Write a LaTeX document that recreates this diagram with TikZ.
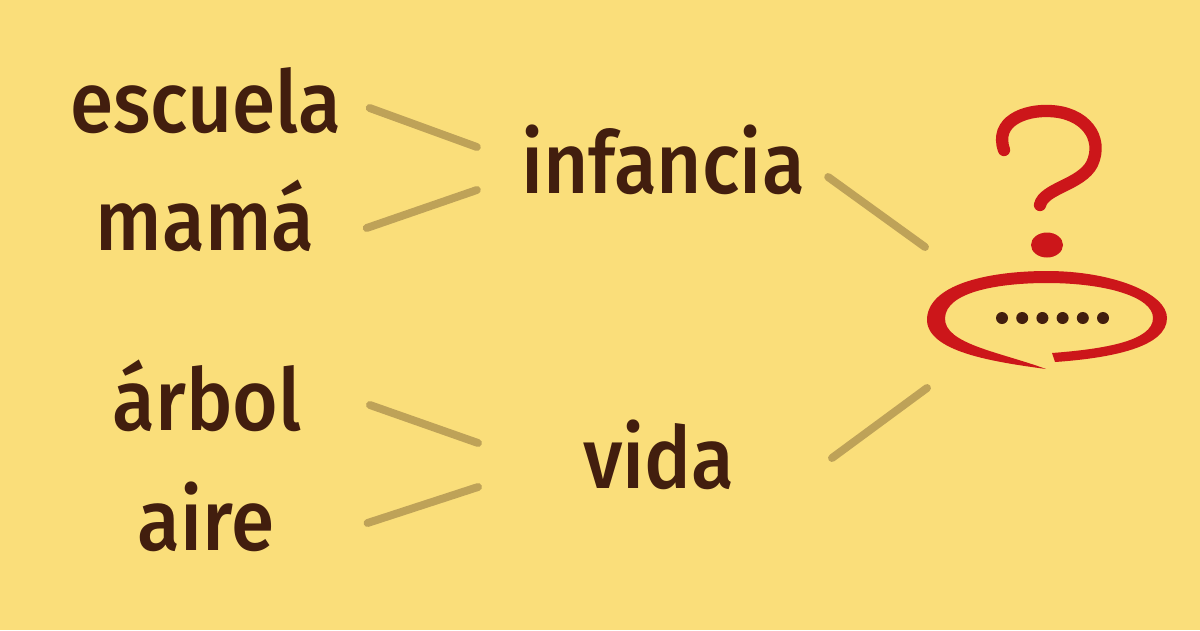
\documentclass[tikz,border=0pt]{standalone}
\usepackage{fontspec}
\usepackage{tikz}
\newfontfamily\wordfont{Fira Sans}[UprightFont=* Medium, FakeStretch=0.91]
\definecolor{sand}{RGB}{250, 222, 122}
\definecolor{cocoa}{RGB}{66, 30, 14}
\definecolor{olive}{RGB}{190, 162, 88}
\definecolor{crimson}{RGB}{204, 22, 26}

\begin{document}
\begin{tikzpicture}[x=0.02cm, y=-0.02cm,
        word/.style={text=cocoa, inner sep=0pt, anchor=base, font=\wordfont\fontsize{49}{52}\selectfont},
        link/.style={olive, line width=4.5pt, line cap=round}]
            \fill[sand] (0,0) rectangle (1200,630);
            % words
            \node[word] (escuela)  at (206,132) {escuela};
            \node[word] (mama)     at (205,250) {mamá};
            \node[word] (infancia) at (663,193) {infancia};
            \node[word] (arbol)    at (207,430) {árbol};
            \node[word] (aire)     at (206,550) {aire};
            \node[word] (vida)     at (659,488) {vida};
            \coordinate (bubble) at (1047,318);
            % links
            \draw[link] ([shift={(28,-24)}]escuela.base east) -- ([shift={(-44,-46)}]infancia.base west);
            \draw[link] ([shift={(52,-22)}]mama.base east)    -- ([shift={(-44,-3)}]infancia.base west);
            \draw[link] ([shift={(23,-16)}]infancia.base east) -- ([shift={(-122,-71)}]bubble);
            \draw[link] ([shift={(68,-25)}]arbol.base east)   -- ([shift={(-105,-45)}]vida.base west);
            \draw[link] ([shift={(93,-27)}]aire.base east)    -- ([shift={(-105,-1)}]vida.base west);
            \draw[link] ([shift={(97,-30)}]vida.base east)    -- ([shift={(-120,70)}]bubble);
            % question mark and bubble
            \draw[crimson, line width=7pt, line cap=round]
                 (1004,150) .. controls (994,121) and (1025,110) .. (1049,111)
                 .. controls (1085,112) and (1104,138) .. (1092,164)
                 .. controls (1081,185) and (1044,188) .. (1040,205);
            \fill[crimson] (1047,245) ellipse (16 and 12.5);
            \fill[crimson] (1046,369) .. controls (995,362) and (925,352) .. (927,318)
                 .. controls (930,282) and (995,271) .. (1047,271)
                 .. controls (1112,271) and (1167,293) .. (1167,318)
                 .. controls (1167,347) and (1112,358) .. (1055,362)
                 -- (1052,353)
                 .. controls (1104,349) and (1153,341) .. (1153,318)
                 .. controls (1153,297) and (1106,283) .. (1047,283)
                 .. controls (998,283) and (946,292) .. (945,318)
                 .. controls (944,344) and (1000,352) .. (1046,369) -- cycle;
            \foreach \k in {0,...,5}
                \fill[cocoa] (1002+20.2*\k,318) circle (6);
        \end{tikzpicture}
\end{document}
